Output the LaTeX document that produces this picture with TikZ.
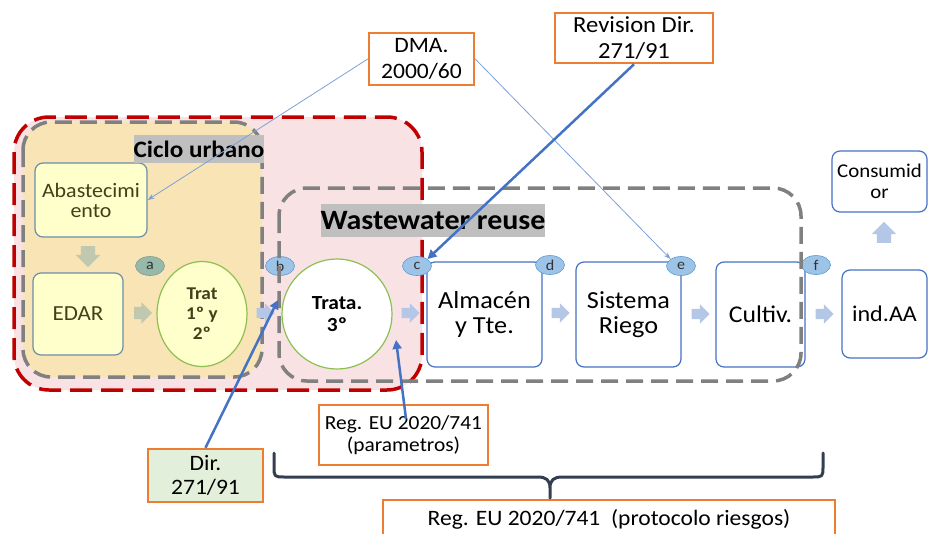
\documentclass[tikz,border=0pt]{standalone}
\usepackage{fontspec}
\setmainfont{Carlito}[FakeStretch=1.07]
\usetikzlibrary{arrows.meta,shapes.geometric,shapes.arrows}

\definecolor{zonepink}{RGB}{249,226,228}
\definecolor{zonebeige}{RGB}{248,228,180}
\definecolor{framered}{RGB}{192,0,0}
\definecolor{framegray}{RGB}{128,128,128}
\definecolor{labelgray}{RGB}{191,191,191}
\definecolor{paleyellow}{RGB}{255,255,204}
\definecolor{dullblue}{RGB}{107,142,170}
\definecolor{olivetext}{RGB}{64,64,26}
\definecolor{leafgreen}{RGB}{140,193,82}
\definecolor{boxblue}{RGB}{68,114,196}
\definecolor{tagblue}{RGB}{157,195,230}
\definecolor{tagedge}{RGB}{91,155,213}
\definecolor{tagsage}{RGB}{150,185,170}
\definecolor{laworange}{RGB}{237,125,49}
\definecolor{lawgreen}{RGB}{226,239,218}
\definecolor{flowblue}{RGB}{180,199,231}
\definecolor{flowsage}{RGB}{192,201,176}
\definecolor{bracenavy}{RGB}{51,63,80}
\definecolor{thinblue}{RGB}{125,160,215}

\newcommand{\fs}[2]{\fontsize{#1}{#2}\selectfont}

\begin{document}
\begin{tikzpicture}[
  x=1pt, y=-1pt,
  zone/.style={line width=3.5pt, rounded corners=#1},
  box/.style={draw=boxblue, line width=1.2pt, rounded corners=8pt,
              fill=white, align=center, inner sep=2pt},
  ubox/.style={box, draw=dullblue, fill=paleyellow, text=olivetext},
  treat/.style={ellipse, draw=leafgreen, line width=1.2pt, inner sep=0pt,
                align=center, font=\bfseries},
  tag/.style={ellipse, draw=tagedge, fill=tagblue, line width=0.6pt,
              minimum width=29pt, minimum height=19pt, inner sep=0pt,
              text=black!80, font=\fs{15}{15}},
  law/.style={draw=laworange, line width=2.5pt, fill=white,
              align=center, inner sep=2pt},
  zonelbl/.style={fill=labelgray, inner sep=0pt},
  flow/.style={single arrow, draw=none, fill=flowblue, inner xsep=2pt,
               inner ysep=5pt, single arrow head extend=4.5pt,
               minimum height=18pt},
  dmaline/.style={-{Stealth[length=7pt,width=5pt]}, draw=thinblue, line width=0.8pt},
  lawline/.style={-{Triangle[length=9pt,width=9pt]}, draw=boxblue, line width=2.5pt},
  brace/.style={draw=bracenavy, line width=3pt, line join=round, line cap=round}
]
\useasboundingbox (0,0) rectangle (928,533);

%% ═══════════════════════════════════════════════
%% zones
%% ═══════════════════════════════════════════════
\draw[zone=35pt, draw=framered, fill=zonepink, dash pattern=on 22pt off 9pt]
  (14,117) rectangle (422,390);
\draw[zone=28pt, draw=framegray, fill=zonebeige, dash pattern=on 17pt off 8pt]
  (23,122) rectangle (262,377);

%% ═══════════════════════════════════════════════
%% Ciclo urbano
%% ═══════════════════════════════════════════════
\node[ubox, minimum width=112pt, minimum height=74pt, font=\fs{20.5}{20}] (abast) at (91,200) {Abastecimi\\ento};
\node[ubox, minimum width=90pt, minimum height=82pt, font=\fs{21.5}{24}]  (edar)  at (78,314)  {EDAR};
\node[treat, fill=paleyellow, text=olivetext, minimum width=90pt, minimum height=105pt,
      font=\bfseries\fs{18}{20}] (trat12) at (202,314) {Trat\\1º y\\2º};
\node[tag, fill=tagsage, draw=tagsage!85!black] (ta) at (150,266) {a};

\node[flow, fill=flowsage, rotate=-90, inner ysep=7pt, single arrow head extend=5pt,
      minimum height=21pt] (fdown) at (88,253) {};
\node[flow, fill=flowsage, inner ysep=6pt] (fedar) at (140,313) {};

%% ═══════════════════════════════════════════════
%% Wastewater reuse
%% ═══════════════════════════════════════════════
\node[treat, fill=white, text=black, minimum size=110pt, circle,
      font=\bfseries\fs{20}{22}] (trata) at (337,314) {Trata.\\3º};
\node[box, minimum width=115pt, minimum height=105pt, font=\fs{24.5}{25}] (almac) at (484.5,314.5) {Almacén\\y Tte.};
\node[box, minimum width=105pt, minimum height=105pt, font=\fs{24.5}{25}] (riego) at (628.5,314.5) {Sistema\\Riego};
\node[box, minimum width=89pt,  minimum height=105pt, font=\fs{24}{25}]   (cultiv) at (760.5,314.5) {Cultiv.};
\node[box, minimum width=85pt,  minimum height=88pt,  font=\fs{22.5}{25}] (indaa) at (884.5,314) {ind.AA};
\node[box, minimum width=95pt,  minimum height=61pt,  font=\fs{19.5}{20.5}] (consum) at (879.5,181.5) {Consumid\\or};

\node[tag] (tb) at (280,266) {b};
\node[tag] (tc) at (417,266) {c};
\node[tag] (td) at (550,265) {d};
\node[tag] (te) at (681,266) {e};
\node[tag] (tf) at (816,265) {f};

% reuse frame over the boxes
\draw[zone=28pt, draw=framegray, dash pattern=on 17pt off 8pt]
  (279,188) rectangle (801,381);

\node[flow] (ftrat)  at (263,313) {};
\node[flow] (ftrata) at (408,313) {};
\node[flow] (falmac) at (558,313) {};
\node[flow] (friego) at (698,314) {};
\node[flow] (fcult)  at (822,314) {};
\node[flow, rotate=90, inner ysep=7pt, single arrow head extend=5pt,
      minimum height=21pt] (fup) at (884,236) {};

%% ── zone labels ─────────────────────────────────
\node[zonelbl, minimum width=130pt, minimum height=28pt, font=\bfseries\fs{23.5}{24}] (ciclo) at (199,149) {Ciclo urbano};
\node[zonelbl, minimum width=220pt, minimum height=33pt, font=\bfseries\fs{28}{28}] (reuse) at (433,220.5) {Wastewater reuse};

%% ═══════════════════════════════════════════════
%% normativa
%% ═══════════════════════════════════════════════
\node[law, minimum width=105pt, minimum height=52pt, font=\fs{22}{25.5}] (dma) at (421.5,59) {DMA.\\2000/60};
\node[law, minimum width=158pt, minimum height=50pt, font=\fs{23}{25.5}] (rev) at (634,38) {Revision Dir.\\271/91};
\node[law, fill=lawgreen, minimum width=115pt, minimum height=53pt, font=\fs{22}{24.5}] (dir) at (205.5,475.5) {Dir.\\271/91};
\node[law, minimum width=169pt, minimum height=60pt, font=\fs{20}{22}] (regp) at (403.5,435) {Reg. EU 2020/741\\(parametros)};
\node[law, minimum width=452pt, minimum height=38pt, font=\fs{22}{22}] (regr) at (609,519) {Reg. EU 2020/741~~(protocolo riesgos)};

\coordinate (dirtip) at (278,300);
\coordinate (regtip) at (396,340);

\draw[dmaline] (dma.west) -- (abast.east);
\draw[dmaline] (dma.east) -- (te.north west);
\draw[lawline] (rev.south) -- (tc.north east);
\draw[lawline] (dir.north) -- (dirtip);
\draw[lawline] ([xshift=2.5pt,yshift=-15pt]regp.north) -- (regtip);

% brace
\draw[brace] (274,453) -- (274,466) .. controls (274,477) .. (285,477) -- (538,477)
  .. controls (546,477) and (550,480) .. (550,488) -- (550,498)
  (550,488) .. controls (550,480) and (554,477) .. (562,477) -- (812,477)
  .. controls (823,477) .. (823,466) -- (823,453);

\end{tikzpicture}
\end{document}
